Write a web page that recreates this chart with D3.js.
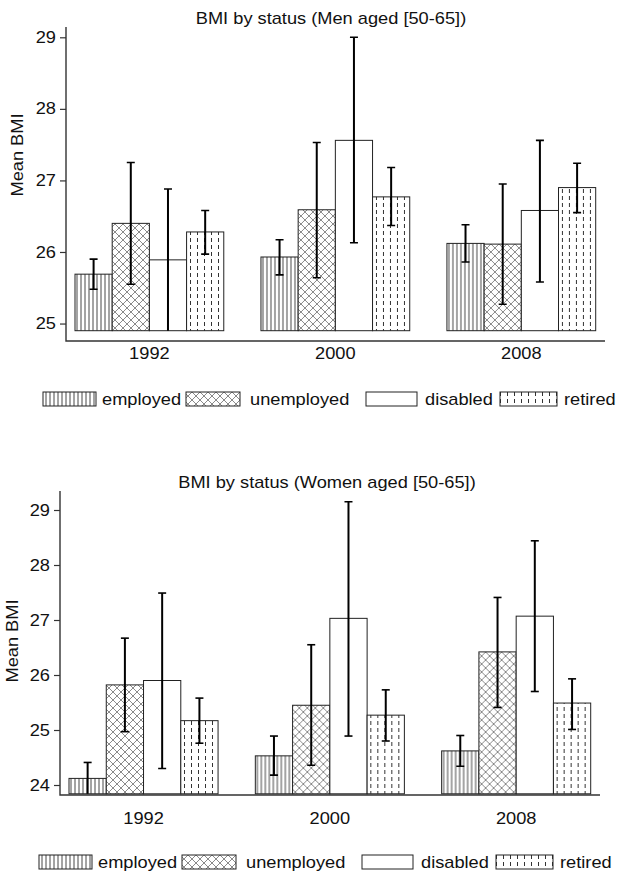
<!DOCTYPE html>
<html>
<head>
<meta charset="utf-8">
<script src="https://cdn.jsdelivr.net/npm/d3@7"></script>
<style>
  html, body { margin: 0; padding: 0; background: #fff; }
  svg { display: block; }
  text { font-family: "Liberation Sans", Arial, Helvetica, sans-serif; fill: #111; }
</style>
</head>
<body>
<svg id="chart" width="618" height="874"></svg>
<script>
// ---- data -------------------------------------------------------------
const years = ["1992", "2000", "2008"];
const statuses = ["employed", "unemployed", "disabled", "retired"];

// mean BMI per year (rows) and status (columns)
const menMean  = [[25.69, 26.40, 25.89, 26.28], [25.93, 26.59, 27.56, 26.77], [26.12, 26.11, 26.58, 26.90]];
const menLow   = [[25.48, 25.55, 24.88, 25.97], [25.68, 25.64, 26.13, 26.37], [25.86, 25.27, 25.58, 26.55]];
const menHigh  = [[25.90, 27.25, 26.88, 26.58], [26.17, 27.53, 29.00, 27.18], [26.38, 26.95, 27.56, 27.24]];

const womenMean = [[24.12, 25.82, 25.90, 25.17], [24.53, 25.45, 27.03, 25.27], [24.62, 26.42, 27.07, 25.49]];
const womenLow  = [[23.80, 24.97, 24.30, 24.76], [24.18, 24.36, 24.89, 24.80], [24.34, 25.41, 25.70, 25.01]];
const womenHigh = [[24.41, 26.67, 27.49, 25.58], [24.89, 26.55, 29.15, 25.73], [24.90, 27.41, 28.44, 25.93]];

const menTicks = [25, 26, 27, 28, 29];
const womenTicks = [24, 25, 26, 27, 28, 29];

const menTitle = "BMI by status (Men aged [50-65])";
const womenTitle = "BMI by status (Women aged [50-65])";
const yLabel = "Mean BMI";

// ---- layout -----------------------------------------------------------
const SX = 1.14;          // horizontal widening of the lettering
const FONT = 16;

const panels = [
  { title: menTitle, mean: menMean, low: menLow, high: menHigh, ticks: menTicks,
    yDomain: [24.9, 29], yRange: [330.7, 37.3],
    xRange: [75, 595.7], axisX: 66, axisTop: 27, axisBottom: 341, axisRight: 605,
    titleX: 331, titleY: 24, yLabX: 23, yLabY: 155, yearY: 359,
    legendY: 392, legendDX: 0, clipId: "clipMen" },
  { title: womenTitle, mean: womenMean, low: womenLow, high: womenHigh, ticks: womenTicks,
    yDomain: [23.84, 29], yRange: [793.8, 510],
    xRange: [69, 590.7], axisX: 60, axisTop: 491, axisBottom: 795, axisRight: 600,
    titleX: 327, titleY: 488, yLabX: 18, yLabY: 641, yearY: 824,
    legendY: 855, legendDX: -4, clipId: "clipWomen" }
];

// legend boxes: left edge, width; label start
const legendBoxes = [[43, 53, 102], [186, 54, 250], [366, 51, 425], [500, 57, 564]];

const svg = d3.select("#chart");
const defs = svg.append("defs");

// ---- fill patterns ------------------------------------------------------
const pVert = defs.append("pattern").attr("id", "pat-employed")
  .attr("patternUnits", "userSpaceOnUse").attr("width", 4).attr("height", 4);
pVert.append("rect").attr("width", 4).attr("height", 4).attr("fill", "#fff");
pVert.append("line").attr("x1", 2).attr("x2", 2).attr("y1", 0).attr("y2", 4)
  .attr("stroke", "#333").attr("stroke-width", 0.9);

const pCross = defs.append("pattern").attr("id", "pat-unemployed")
  .attr("patternUnits", "userSpaceOnUse").attr("width", 8).attr("height", 8);
pCross.append("rect").attr("width", 8).attr("height", 8).attr("fill", "#fff");
pCross.append("path").attr("d", "M0,0L8,8M8,0L0,8M-1,7L1,9M7,-1L9,1M-1,1L1,-1M7,9L9,7")
  .attr("stroke", "#8a8a8a").attr("stroke-width", 1);

const pDash = defs.append("pattern").attr("id", "pat-retired")
  .attr("patternUnits", "userSpaceOnUse").attr("width", 7).attr("height", 7);
pDash.append("rect").attr("width", 7).attr("height", 7).attr("fill", "#fff");
pDash.append("line").attr("x1", 3.5).attr("x2", 3.5).attr("y1", 0).attr("y2", 4)
  .attr("stroke", "#333").attr("stroke-width", 1);

const fills = {
  employed: "url(#pat-employed)",
  unemployed: "url(#pat-unemployed)",
  disabled: "#fff",
  retired: "url(#pat-retired)"
};

// text helper: widened lettering, optionally rotated
function label(parent, x, y, str, anchor, size, rotate) {
  const g = parent.append("g")
    .attr("transform", `translate(${x},${y})${rotate ? " rotate(-90)" : ""} scale(${SX},1)`);
  g.append("text").attr("text-anchor", anchor).attr("font-size", size).text(str);
  return g;
}

panels.forEach(p => {
  const g = svg.append("g");

  const y = d3.scaleLinear().domain(p.yDomain).range(p.yRange);
  const x0 = d3.scaleBand().domain(years).range(p.xRange).paddingInner(0.2).paddingOuter(0);
  const x1 = d3.scaleBand().domain(statuses).range([0, x0.bandwidth()]).padding(0);

  // clip error bars at the bar base (wide horizontally: used inside translated groups)
  defs.append("clipPath").attr("id", p.clipId).append("rect")
    .attr("x", -10000).attr("y", p.axisTop)
    .attr("width", 20000).attr("height", y(p.yDomain[0]) - p.axisTop);

  // title
  label(g, p.titleX, p.titleY, p.title, "middle", FONT, false);

  // y axis label
  label(g, p.yLabX, p.yLabY, yLabel, "middle", FONT, true);

  // axis frame (L shape)
  g.append("path")
    .attr("d", `M${p.axisX},${p.axisTop}V${p.axisBottom}H${p.axisRight}`)
    .attr("fill", "none").attr("stroke", "#333").attr("stroke-width", 1.4);

  // y ticks
  const yAxis = d3.axisLeft(y).tickValues(p.ticks).tickSize(6).tickFormat("");
  const ya = g.append("g").attr("transform", `translate(${p.axisX},0)`).call(yAxis);
  ya.select(".domain").remove();
  ya.selectAll(".tick line").attr("stroke", "#333").attr("stroke-width", 1.2);
  p.ticks.forEach(t => {
    label(g, p.axisX - 10, y(t) + 5.6, String(t), "end", FONT, false);
  });

  // bars
  const rows = years.map((yr, i) => statuses.map((s, j) => ({
    year: yr, status: s, mean: p.mean[i][j], low: p.low[i][j], high: p.high[i][j]
  })));

  const groups = g.selectAll("g.grp").data(rows).join("g")
    .attr("class", "grp")
    .attr("transform", (d, i) => `translate(${x0(years[i])},0)`);

  groups.selectAll("rect").data(d => d).join("rect")
    .attr("x", d => x1(d.status))
    .attr("width", x1.bandwidth())
    .attr("y", d => y(d.mean))
    .attr("height", d => y(p.yDomain[0]) - y(d.mean))
    .attr("fill", d => fills[d.status])
    .attr("stroke", "#222").attr("stroke-width", 1);

  // error bars
  const eb = groups.append("g").attr("clip-path", `url(#${p.clipId})`)
    .selectAll("g").data(d => d).join("g")
    .attr("transform", d => `translate(${x1(d.status) + x1.bandwidth() / 2},0)`);
  eb.append("line").attr("y1", d => y(d.low)).attr("y2", d => y(d.high))
    .attr("stroke", "#000").attr("stroke-width", 2);
  eb.append("line").attr("x1", -4).attr("x2", 4)
    .attr("y1", d => y(d.high)).attr("y2", d => y(d.high))
    .attr("stroke", "#000").attr("stroke-width", 1.6);
  eb.append("line").attr("x1", -4).attr("x2", 4)
    .attr("y1", d => y(d.low)).attr("y2", d => y(d.low))
    .attr("stroke", "#000").attr("stroke-width", 1.6);

  // year labels
  years.forEach(yr => {
    label(g, x0(yr) + x0.bandwidth() / 2, p.yearY, yr, "middle", FONT, false);
  });

  // legend
  const lg = g.append("g").attr("transform", `translate(${p.legendDX},${p.legendY})`);
  statuses.forEach((s, i) => {
    const [bx, bw, tx] = legendBoxes[i];
    lg.append("rect").attr("x", bx).attr("y", 0).attr("width", bw).attr("height", 14)
      .attr("fill", fills[s]).attr("stroke", "#222").attr("stroke-width", 1);
    label(lg, tx, 13, s, "start", FONT, false);
  });
});
</script>
</body>
</html>
